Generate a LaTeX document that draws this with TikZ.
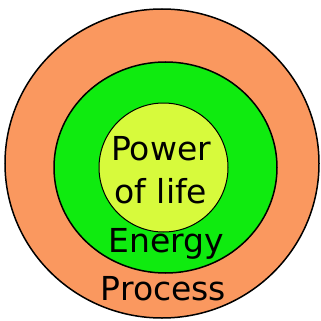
\documentclass[tikz,border=0pt]{standalone}
\usepackage{fontspec}
\setmainfont{DejaVu Sans}
\usetikzlibrary{shapes.geometric}
\definecolor{processorange}{RGB}{250,152,95}
\definecolor{energygreen}{RGB}{15,235,15}
\definecolor{lifeyellow}{RGB}{215,250,60}
\tikzset{
  ring/.style={draw, ellipse, inner sep=0pt, line width=1.5pt},
  label/.style={inner sep=0pt, font=\fontsize{33}{43}\selectfont}
}
\begin{document}
\begin{tikzpicture}[x=1pt,y=-1pt]
\useasboundingbox (0,0) rectangle (321,321);
\node[ring, fill=processorange, minimum width=314pt, minimum height=309pt] (process) at (162,163.5) {};
\node[ring, fill=energygreen, minimum width=223pt, minimum height=211pt] (energy) at (165.5,167.5) {};
\node[ring, fill=lifeyellow, line width=1pt, minimum width=129pt, minimum height=129pt] (life) at (163.5,167.5) {};
\node[label, align=center, anchor=north] (lifetext) at (161,136) {Power\\of life};
\node[label, anchor=base] (energytext) at (166.5,252) {Energy};
\node[label, anchor=base] (processtext) at (163.5,300) {Process};
\end{tikzpicture}
\end{document}
